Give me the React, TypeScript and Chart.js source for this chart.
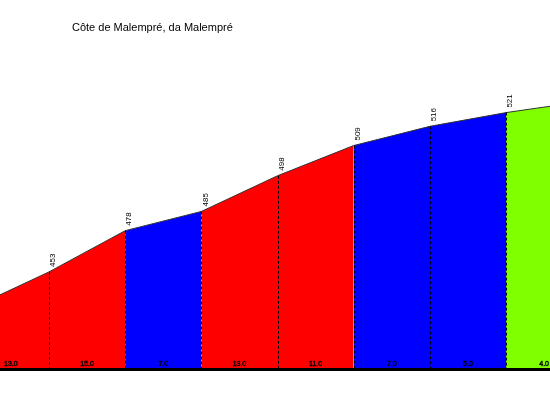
import React, { useEffect, useRef } from "react";
import { Chart, registerables } from "chart.js";

Chart.register(...registerables);

const title = "Côte de Malempré, da Malempré";
// segment boundaries (one unit per segment)
const distances = [0, 1, 2, 3, 4, 5, 6, 7, 8];
// altitudes as drawn in the profile
const altitudes = [440, 453, 468, 475, 488, 499, 506, 511, 515];
// altitude labels printed above each boundary
const altitudeLabels = ["", "453", "478", "485", "498", "509", "516", "521", ""];
// gradient label of each segment
const gradients = [13.0, 15.0, 7.0, 13.0, 11.0, 7.0, 5.0, 4.0];

function colorFor(g: number): string {
  if (g >= 10) return "#ff0000";
  if (g >= 5) return "#0000ff";
  return "#80ff00";
}

const profilePlugin = {
  id: "profilePlugin",
  afterDatasetsDraw(chart: any) {
    const ctx = chart.ctx as CanvasRenderingContext2D;
    const xs = chart.scales.x;
    const ys = chart.scales.y;
    const area = chart.chartArea;
    const bottom = area.bottom;
    ctx.save();
    // dashed verticals
    ctx.strokeStyle = "#000";
    ctx.lineWidth = 1;
    ctx.setLineDash([3, 2]);
    for (let i = 1; i < distances.length - 1; i++) {
      const px = Math.round(xs.getPixelForValue(distances[i])) + 0.5;
      const py = ys.getPixelForValue(altitudes[i]);
      ctx.beginPath();
      ctx.moveTo(px, py);
      ctx.lineTo(px, bottom);
      ctx.stroke();
    }
    ctx.setLineDash([]);
    // altitude labels
    ctx.fillStyle = "#000";
    ctx.font = "8px 'Liberation Sans', Arial, sans-serif";
    ctx.textAlign = "left";
    ctx.textBaseline = "middle";
    for (let i = 0; i < distances.length; i++) {
      if (!altitudeLabels[i]) continue;
      const px = xs.getPixelForValue(distances[i]);
      const py = ys.getPixelForValue(altitudes[i]);
      ctx.save();
      ctx.translate(px + 4, py - 5);
      ctx.rotate(-Math.PI / 2);
      ctx.fillText(altitudeLabels[i], 0, 0);
      ctx.restore();
    }
    // gradient labels
    ctx.font = "7px 'Liberation Sans', Arial, sans-serif";
    ctx.textAlign = "center";
    ctx.strokeStyle = "#000";
    ctx.lineWidth = 0.4;
    for (let i = 0; i < gradients.length; i++) {
      const mid = (distances[i] + distances[i + 1]) / 2;
      const px = xs.getPixelForValue(mid);
      const txt = gradients[i].toFixed(1);
      ctx.fillText(txt, px, bottom - 3.5);
      ctx.strokeText(txt, px, bottom - 3.5);
    }
    // base line
    ctx.fillStyle = "#000";
    ctx.fillRect(0, bottom, chart.width, 3);
    // title
    ctx.font = "11px 'Liberation Sans', Arial, sans-serif";
    ctx.textAlign = "left";
    ctx.fillText(title, 72, 28);
    ctx.restore();
  },
};

export default function App() {
  const ref = useRef<HTMLCanvasElement | null>(null);
  useEffect(() => {
    document.body.style.margin = "0";
    const canvas = ref.current;
    if (!canvas) return;
    const chart = new Chart(canvas, {
      type: "line",
      data: {
        datasets: [
          {
            data: distances.map((d, i) => ({ x: d, y: altitudes[i] })),
            borderColor: "#333",
            borderWidth: 1,
            pointRadius: 0,
            tension: 0,
            fill: "start",
            backgroundColor: "#ff0000",
            segment: {
              backgroundColor: (c: any) => colorFor(gradients[c.p0DataIndex]),
            },
          },
        ],
      },
      options: {
        animation: false,
        responsive: false,
        devicePixelRatio: 1,
        layout: { padding: { left: 0, right: 0, top: 0, bottom: 32 } },
        plugins: {
          legend: { display: false },
          title: { display: false },
          tooltip: { enabled: false },
        },
        scales: {
          x: { type: "linear", display: false, min: 0.3567, max: 7.577 },
          y: { type: "linear", display: false, min: 418, max: 552 },
        },
      },
      plugins: [profilePlugin],
    });
    return () => chart.destroy();
  }, []);
  return (
    <div style={{ position: "relative", width: 550, height: 400, background: "#fff" }}>
      <canvas ref={ref} width={550} height={400} style={{ display: "block" }} />
    </div>
  );
}
